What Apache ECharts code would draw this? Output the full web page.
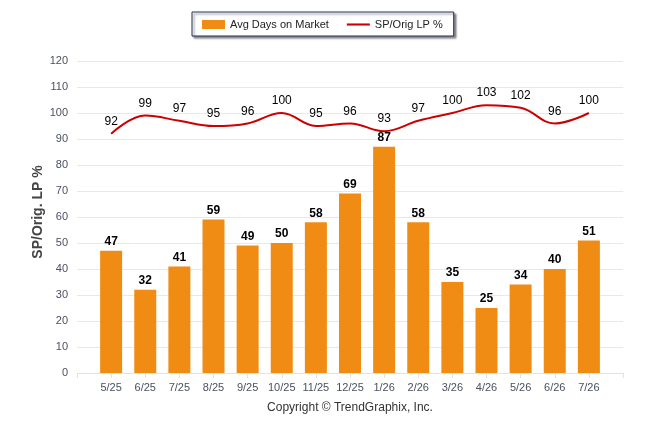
<!DOCTYPE html>
<html lang="en">
<head>
    <meta charset="UTF-8">
    <title>Avg Days on Market / SP-Orig LP %</title>
    <script src="https://cdn.jsdelivr.net/npm/echarts@6/dist/echarts.min.js"></script>
    <style>
        html, body { margin: 0; padding: 0; background: #fff; }
        #chart { width: 646px; height: 434px; }
    </style>
</head>
<body>
<div id="chart"></div>
<script type="text/javascript">
    // months shown on the x axis
    var months = ['5/25', '6/25', '7/25', '8/25', '9/25', '10/25', '11/25', '12/25',
                  '1/26', '2/26', '3/26', '4/26', '5/26', '6/26', '7/26'];
    // bars
    var avgDays = [47, 32, 41, 59, 49, 50, 58, 69, 87, 58, 35, 25, 34, 40, 51];
    // red line
    var spOrig = [92, 99, 97, 95, 96, 100, 95, 96, 93, 97, 100, 103, 102, 96, 100];
    var yTicks = { min: 0, max: 120, step: 10 };

    var chart = echarts.init(document.getElementById('chart'));
    var font = 'Liberation Sans, Arial, sans-serif';

    // one empty slot at each end, like the original axis
    var cats = [''].concat(months, ['']);
    var barData = [null].concat(avgDays, [null]);
    var lineData = [null].concat(spOrig, [null]);

    var option = {
        animation: false,
        textStyle: { fontFamily: font },
        legend: {
            left: 192,
            top: 12,
            padding: [7, 11, 6, 10],
            itemGap: 18,
            itemWidth: 23,
            itemHeight: 9,
            borderColor: '#1f2f55',
            borderWidth: 1,
            backgroundColor: '#fff',
            shadowColor: 'rgba(0,0,0,0.45)',
            shadowBlur: 2,
            shadowOffsetX: 2,
            shadowOffsetY: 2,
            textStyle: { fontSize: 11, color: '#222', fontFamily: font },
            data: [
                { name: 'Avg Days on Market', icon: 'rect' },
                { name: 'SP/Orig LP %', icon: 'path://M0,0 L22,0 L22,2 L0,2 Z' }
            ]
        },
        grid: { left: 77, right: 23, top: 61, bottom: 61 },
        xAxis: {
            type: 'category',
            data: cats,
            boundaryGap: false,
            axisLine: { lineStyle: { color: '#e2e2e2', width: 1 } },
            axisTick: { show: true, length: 5, lineStyle: { color: '#e2e2e2' } },
            axisLabel: { color: '#4a5060', fontSize: 11, margin: 9, interval: 0 }
        },
        yAxis: {
            type: 'value',
            min: yTicks.min,
            max: yTicks.max,
            interval: yTicks.step,
            axisLine: { show: false },
            axisTick: { show: false },
            axisLabel: { color: '#4a5060', fontSize: 11, margin: 9 },
            splitLine: { lineStyle: { color: '#e8e8e8', width: 1 } }
        },
        series: [
            {
                name: 'Avg Days on Market',
                type: 'bar',
                data: barData,
                barWidth: 22,
                itemStyle: { color: '#f08c14' },
                label: {
                    show: true,
                    position: 'top',
                    distance: 3,
                    fontSize: 12,
                    fontWeight: 'bold',
                    color: '#000'
                }
            },
            {
                name: 'SP/Orig LP %',
                type: 'line',
                data: lineData,
                smooth: 0.4,
                symbol: 'circle',
                symbolSize: 0.1,
                showSymbol: true,
                lineStyle: { color: '#cc0000', width: 2 },
                itemStyle: { color: '#cc0000' },
                label: {
                    show: true,
                    position: 'top',
                    distance: 6,
                    fontSize: 12,
                    color: '#000'
                }
            }
        ],
        graphic: [
            {
                // y axis title
                type: 'text',
                x: 38,
                y: 212,
                rotation: Math.PI / 2,
                style: {
                    text: 'SP/Orig. LP %',
                    fontSize: 14,
                    fontWeight: 'bold',
                    fill: '#444',
                    align: 'center',
                    verticalAlign: 'middle',
                    fontFamily: font
                }
            },
            {
                type: 'text',
                x: 350,
                y: 402,
                style: {
                    text: 'Copyright \u00a9 TrendGraphix, Inc.',
                    fontSize: 12,
                    fill: '#333',
                    align: 'center',
                    fontFamily: font
                }
            }
        ]
    };

    chart.setOption(option);
</script>
</body>
</html>
